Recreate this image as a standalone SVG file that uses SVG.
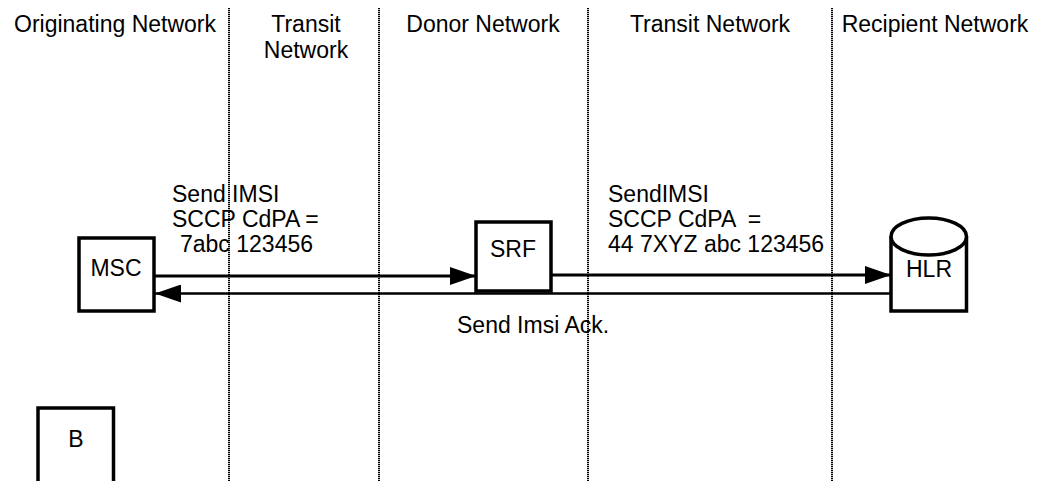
<svg xmlns="http://www.w3.org/2000/svg" width="1045" height="481" viewBox="0 0 1045 481">
  <style>
    text { font-family: "Liberation Sans", Arial, sans-serif; font-size: 23px; fill: #000; }
    .mid { text-anchor: middle; }
    .box { fill: #fff; stroke: #000; stroke-width: 3.5; }
    .sep { stroke: #000; stroke-width: 2; stroke-dasharray: 1.3 0.7; fill: none; }
    .msg { stroke: #000; fill: none; }
  </style>
  <defs>
    <marker id="arr" markerUnits="userSpaceOnUse" viewBox="0 0 26 18" refX="26" refY="9" markerWidth="26" markerHeight="18" orient="auto">
      <path d="M0,0 L26,9 L0,18 Z" fill="#000"/>
    </marker>
  </defs>
  <rect width="1045" height="481" fill="#fff"/>

  <g id="separators">
    <line class="sep" x1="229" y1="8" x2="229" y2="481"/>
    <line class="sep" x1="379" y1="8" x2="379" y2="481"/>
    <line class="sep" x1="588" y1="8" x2="588" y2="481"/>
    <line class="sep" x1="832" y1="8" x2="832" y2="481"/>
  </g>

  <g id="headers">
    <text class="mid" x="115" y="32">Originating Network</text>
    <text class="mid" x="306" y="32">Transit</text>
    <text class="mid" x="306" y="58">Network</text>
    <text class="mid" x="483" y="32">Donor Network</text>
    <text class="mid" x="710" y="32">Transit Network</text>
    <text class="mid" x="935" y="32">Recipient Network</text>
  </g>

  <g id="connectors">
    <line class="msg" stroke-width="3" x1="155" y1="276" x2="476" y2="276" marker-end="url(#arr)"/>
    <line class="msg" stroke-width="3" x1="551" y1="275" x2="891" y2="275" marker-end="url(#arr)"/>
    <line class="msg" stroke-width="2.5" x1="891" y1="293.5" x2="155" y2="293.5" marker-end="url(#arr)"/>
  </g>

  <g id="labels">
    <text x="172" y="202">Send IMSI</text>
    <text x="172" y="227">SCCP CdPA =</text>
    <text x="180" y="252">7abc 123456</text>
    <text x="608" y="202">SendIMSI</text>
    <text x="608" y="227" xml:space="preserve">SCCP CdPA  =</text>
    <text x="608" y="252">44 7XYZ abc 123456</text>
    <text x="457" y="333">Send Imsi Ack.</text>
  </g>

  <g id="msc">
    <rect class="box" x="79" y="238" width="75" height="73"/>
    <text class="mid" x="116" y="276">MSC</text>
  </g>

  <g id="srf">
    <rect class="box" x="476" y="222" width="75" height="69"/>
    <text class="mid" x="513" y="257">SRF</text>
  </g>

  <g id="hlr">
    <path class="box" d="M891,236.5 L891,311 L966.5,311 L966.5,236.5"/>
    <ellipse class="box" cx="928.75" cy="236.5" rx="37.75" ry="18.5"/>
    <text class="mid" x="929" y="277">HLR</text>
  </g>

  <g id="b">
    <rect class="box" x="38" y="408" width="75.5" height="90"/>
    <text class="mid" x="76" y="447">B</text>
  </g>
</svg>
